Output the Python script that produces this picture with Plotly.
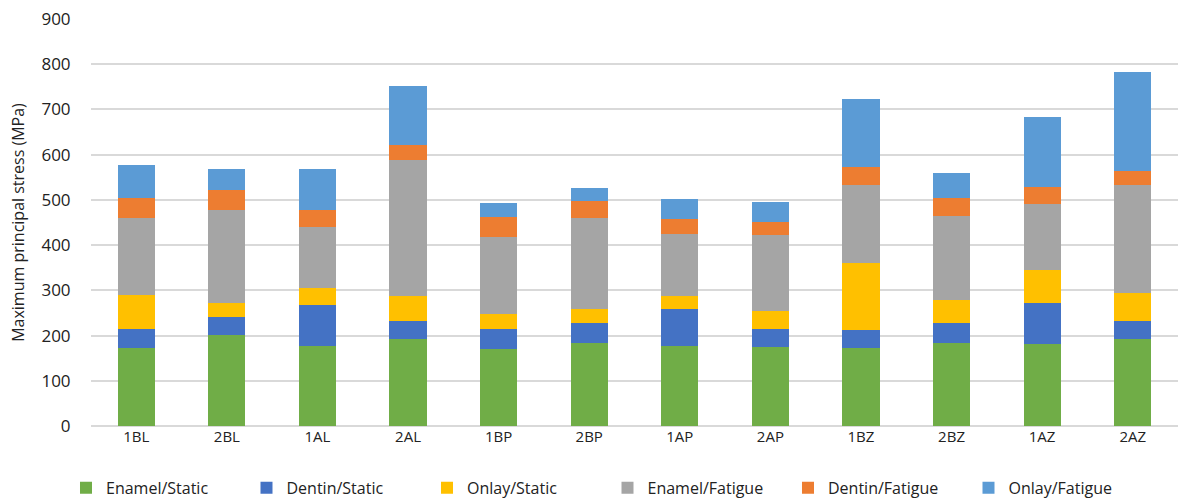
import plotly.graph_objects as go

categories = ["1BL", "2BL", "1AL", "2AL", "1BP", "2BP", "1AP", "2AP", "1BZ", "2BZ", "1AZ", "2AZ"]
enamel_static = [172, 201, 178, 192, 170, 184, 178, 175, 172, 184, 181, 192]
dentin_static = [43, 40, 89, 40, 45, 43, 80, 40, 40, 43, 91, 40]
onlay_static = [74, 31, 39, 55, 32, 31, 30, 40, 148, 51, 74, 63]
enamel_fatigue = [171, 205, 134, 301, 170, 201, 136, 167, 173, 187, 145, 238]
dentin_fatigue = [44, 45, 37, 34, 45, 38, 34, 29, 40, 40, 37, 31]
onlay_fatigue = [74, 46, 91, 130, 31, 30, 45, 45, 150, 54, 156, 219]

series = [
    ("Enamel/Static", enamel_static, "#70ad47"),
    ("Dentin/Static", dentin_static, "#4472c4"),
    ("Onlay/Static", onlay_static, "#ffc000"),
    ("Enamel/Fatigue", enamel_fatigue, "#a5a5a5"),
    ("Dentin/Fatigue", dentin_fatigue, "#ed7d31"),
    ("Onlay/Fatigue", onlay_fatigue, "#5b9bd5"),
]

font_family = "Open Sans, Noto Sans, sans-serif"

fig = go.Figure()
for name, vals, color in series:
    fig.add_trace(go.Bar(x=categories, y=vals, name=name, marker=dict(color=color, line=dict(width=0))))

fig.update_layout(
    barmode="stack",
    bargap=0.59,
    width=1181,
    height=501,
    margin=dict(l=91, r=3, t=19, b=75, autoexpand=False),
    paper_bgcolor="white",
    plot_bgcolor="white",
    font=dict(family=font_family, size=14, color="#222222"),
    legend=dict(
        orientation="h",
        x=-0.023, xanchor="left",
        y=-0.152, yanchor="middle",
        entrywidth=135.5, entrywidthmode="pixels",
        itemwidth=30,
        font=dict(size=16, color="#222222"),
        traceorder="normal",
    ),
    xaxis=dict(
        showgrid=False,
        showline=False,
        ticks="",
        tickfont=dict(size=15),
    ),
    yaxis=dict(
        range=[0, 900],
        dtick=100,
        showgrid=True,
        gridcolor="#d9d9d9",
        gridwidth=1.5,
        zeroline=True,
        zerolinecolor="#d9d9d9",
        zerolinewidth=1.5,
        ticks="outside",
        ticklen=16,
        tickcolor="rgba(0,0,0,0)",
        tickfont=dict(size=17),
        title=dict(text="Maximum principal stress (MPa)", font=dict(size=16), standoff=12),
    ),
)

fig.write_html("out.html")
